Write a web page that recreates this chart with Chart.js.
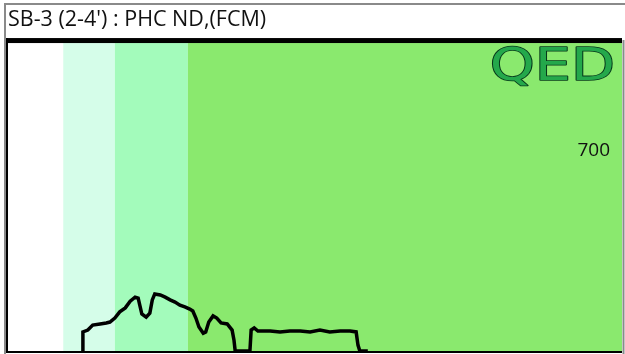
<!DOCTYPE html>
<html>
<head>
<meta charset="utf-8">
<script src="https://cdn.jsdelivr.net/npm/chart.js@4.4.1/dist/chart.umd.min.js"></script>
<style>
  html, body { margin: 0; padding: 0; background: #fff; }
  #wrap { width: 625px; height: 354px; position: relative; }
</style>
</head>
<body>
<div id="wrap"><canvas id="chromChart" width="625" height="354"></canvas></div>
<script>
// SB-3 chromatogram trace (x = relative retention, y = relative response)
const TITLE = "SB-3 (2-4') : PHC ND,(FCM)";
const SCALE_LABEL = '700';

// band boundaries along x (white | mint | light green | green)
const bandEdges = [0, 9.0, 17.4, 29.3, 100];
const bandColors = ['#ffffff', '#d5fde9', '#a3fbbb', '#8ae96e'];

// trace
const traceX = [12.2, 12.2, 13.0, 13.8, 15.0, 16.0, 16.6, 17.4, 18.2, 19.1, 19.9, 20.7, 21.2, 21.5, 21.8, 22.5, 23.1, 23.5, 23.9, 24.8, 25.6, 26.4, 27.2, 28.0, 28.8, 29.6, 30.1, 30.6, 31.1, 31.8, 32.2, 32.7, 33.4, 34.0, 34.7, 35.7, 36.5, 36.8, 37.0,
  39.4, 39.6, 40.1, 40.7, 42.7, 44.3, 45.9, 47.6, 49.2, 50.8, 52.4, 54.1, 55.7, 56.7, 57.0, 57.3, 58.6];
const traceY = [0, 6.2, 6.8, 8.4, 8.8, 9.1, 9.4, 10.7, 12.7, 14.0, 16.2, 17.5, 17.2, 14.6, 12.0, 11.0, 12.3, 16.6, 18.5, 18.2, 17.5, 16.6, 15.9, 14.9, 14.3, 13.6, 13.0, 10.7, 7.8, 5.8, 6.2, 9.4, 11.4, 10.7, 9.1, 8.8, 6.8, 3.6, 0,
  0, 6.8, 7.5, 6.5, 6.5, 6.2, 6.5, 6.5, 6.2, 6.8, 6.2, 6.5, 6.5, 6.2, 1.9, 0, 0];

const points = traceX.map((x, i) => ({ x, y: traceY[i] }));

// background bands + frame + logo
const decor = {
  id: 'decor',
  beforeDatasetsDraw(chart) {
    const { ctx, chartArea: a, scales: { x } } = chart;
    ctx.save();
    for (let i = 0; i < bandColors.length; i++) {
      const x0 = x.getPixelForValue(bandEdges[i]);
      const x1 = x.getPixelForValue(bandEdges[i + 1]);
      ctx.fillStyle = bandColors[i];
      ctx.fillRect(x0, a.top, x1 - x0, a.bottom - a.top);
    }
    // logo
    ctx.save();
    ctx.translate(a.right - 7, a.top + 37);
    ctx.scale(1.3, 1);
    ctx.font = '44px "DejaVu Sans"';
    ctx.textAlign = 'right';
    ctx.textBaseline = 'alphabetic';
    ctx.lineJoin = 'round';
    ctx.lineWidth = 1.6;
    ctx.strokeStyle = '#06361a';
    ctx.strokeText('QED', 0, 0);
    ctx.fillStyle = '#24a84b';
    ctx.fillText('QED', 0, 0);
    ctx.restore();
    // scale label
    ctx.font = '19px "Open Sans"';
    ctx.fillStyle = '#111';
    ctx.textAlign = 'right';
    ctx.textBaseline = 'middle';
    ctx.fillText(SCALE_LABEL, a.right - 12, a.top + 108);
    ctx.restore();
  },
  afterDraw(chart) {
    const { ctx, chartArea: a } = chart;
    ctx.save();
    // outer grey frame
    ctx.strokeStyle = '#8a8a8a';
    ctx.lineWidth = 2;
    ctx.beginPath();
    ctx.moveTo(5, 354); ctx.lineTo(5, 4); ctx.lineTo(625, 4);
    ctx.stroke();
    ctx.beginPath();
    ctx.moveTo(623.5, 40); ctx.lineTo(623.5, 354);
    ctx.stroke();
    // plot borders
    ctx.fillStyle = '#000';
    ctx.fillRect(6, a.top - 5, a.right - 6, 5);
    ctx.fillRect(6, a.top - 5, 2, a.bottom - a.top + 5);
    ctx.fillRect(6, a.bottom, a.right - 6, 2);
    ctx.restore();
  }
};

new Chart(document.getElementById('chromChart'), {
  type: 'line',
  data: {
    datasets: [{
      data: points,
      borderColor: '#000',
      borderWidth: 3.5,
      pointRadius: 0,
      tension: 0,
      fill: false
    }]
  },
  options: {
    responsive: false,
    animation: false,
    layout: { padding: { left: 8, right: 3, top: 0, bottom: 3 } },
    scales: {
      x: { type: 'linear', min: 0, max: 100, display: false },
      y: { min: 0, max: 100, display: false }
    },
    plugins: {
      legend: { display: false },
      tooltip: { enabled: false },
      title: {
        display: true,
        text: TITLE,
        align: 'start',
        color: '#111',
        font: { family: 'Open Sans', size: 21.5, weight: 'normal', lineHeight: 1.1 },
        padding: { top: 8, bottom: 11.4 }
      }
    }
  },
  plugins: [decor]
});
</script>
</body>
</html>
